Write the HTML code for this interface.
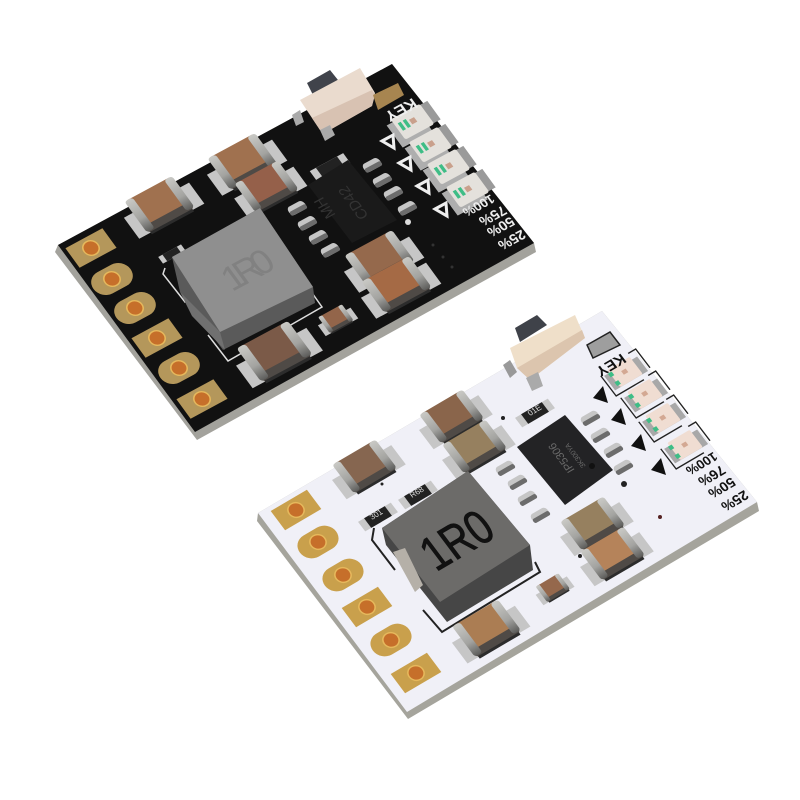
<!DOCTYPE html>
<html><head><meta charset="utf-8"><style>
html,body{margin:0;padding:0;background:#fff}svg{display:block}
text{font-family:"Liberation Sans",sans-serif}
</style></head><body>
<svg xmlns="http://www.w3.org/2000/svg" width="800" height="800" viewBox="0 0 800 800">
<defs>
<linearGradient id="metal" x1="0" y1="0" x2="0" y2="1"><stop offset="0" stop-color="#c9c9c5"/><stop offset=".6" stop-color="#a3a3a0"/><stop offset="1" stop-color="#5d5d5b"/></linearGradient>
<g id="cap">
<rect x="-37" y="-6" width="74" height="26" fill="#c6c6c6"/>
<rect x="-24" y="-10" width="48" height="32" fill="#2c2c2c"/>
<rect x="-26" y="-12" width="52" height="31" rx="3" fill="#4f4a46"/>
<rect x="-26" y="-20" width="52" height="31" rx="3" fill="currentColor"/>
<rect x="-27" y="-20" width="9" height="38" rx="3" fill="url(#metal)"/>
<rect x="18" y="-20" width="9" height="38" rx="3" fill="url(#metal)"/>
</g>
<g id="psq"><rect x="-21" y="-12" width="42" height="24" fill="currentColor"/><circle r="8.5" fill="#e6b85c"/><circle r="7" fill="#c66f2a"/></g>
<g id="pov"><rect x="-21" y="-13" width="42" height="26" rx="13" fill="currentColor"/><circle r="8.5" fill="#e6b85c"/><circle r="7" fill="#c66f2a"/></g>
<g id="ledb">
<rect x="-20" y="-8" width="10" height="24" fill="#aeaeae"/><rect x="-20" y="6" width="30" height="10" fill="#aeaeae"/>
<rect x="12" y="-10" width="10" height="20" fill="#9a9a9a"/>
<rect x="-14" y="-11" width="29" height="22" rx="2" fill="#e4e1dc"/>
<rect x="-11" y="-5" width="3" height="8" fill="#3ebd86"/><rect x="-6" y="-5" width="3" height="8" fill="#3ebd86"/>
<rect x="-1" y="-3" width="5" height="5" fill="#c9a08c"/>
</g>
<g id="ledw">
<polyline points="-25,-10 -25,18 12,18" fill="none" stroke="#222" stroke-width="1.5"/>
<polyline points="16,-16 26,-16 26,10" fill="none" stroke="#222" stroke-width="1.5"/>
<rect x="-22" y="-8" width="44" height="20" fill="#a8a8a8"/>
<rect x="-15" y="-12" width="30" height="24" rx="2" fill="#f0ddd2"/>
<rect x="-3" y="-3" width="6" height="5" fill="#d3a893"/>
<rect x="-17" y="-8" width="5" height="5" fill="#3ebd86"/><rect x="-17" y="4" width="5" height="5" fill="#3ebd86"/>
</g>
<g id="legb"><rect x="-13" y="-5" width="26" height="10" rx="5" fill="#c6c6c6"/><rect x="-13" y="0" width="26" height="5" rx="2.5" fill="#6c6c6c"/></g>
<g id="res"><rect x="-19" y="-6" width="38" height="12" fill="#c8c8c8"/><rect x="-12" y="-6" width="24" height="12" fill="#222"/></g>
</defs>
<rect width="800" height="800" fill="#fff"/>

<!-- BLACK BOARD -->
<polygon points="58,245 392,64 534,243 536,252 197,440 55,252" fill="#a3a29c"/>
<polygon points="58,245 392,64 534,243 195,432" fill="#111"/>
<!-- silkscreen -->
<polyline points="165,268 163,274 185,302 192,298" fill="none" stroke="#ddd" stroke-width="1.5"/>
<polyline points="208,335 228,361 322,307 310,290" fill="none" stroke="#ddd" stroke-width="1.5"/>
<!-- pads -->
<g color="#b4975b">
<use href="#psq" transform="matrix(.88 -.475 .59 .81 91 248)"/>
<use href="#pov" transform="matrix(.88 -.475 .59 .81 112 279)"/>
<use href="#pov" transform="matrix(.88 -.475 .59 .81 135 308)"/>
<use href="#psq" transform="matrix(.88 -.475 .59 .81 157 338)"/>
<use href="#pov" transform="matrix(.88 -.475 .59 .81 179 368)"/>
<use href="#psq" transform="matrix(.88 -.475 .59 .81 202 399)"/>
</g>
<!-- caps -->
<use href="#cap" color="#a0714f" transform="matrix(.88 -.475 .59 .81 160 205)"/>
<use href="#cap" color="#a0714f" transform="matrix(.88 -.475 .59 .81 243 162)"/>
<use href="#cap" color="#95604a" transform="matrix(.8 -.43 .54 .74 267 187)"/>
<use href="#cap" color="#95694c" transform="matrix(.88 -.475 .59 .81 380 259)"/>
<use href="#cap" color="#a56a45" transform="matrix(.88 -.475 .59 .81 397 285)"/>
<use href="#cap" color="#7b5a48" transform="matrix(.95 -.51 .64 .87 275 352)"/>
<use href="#cap" color="#93654a" transform="matrix(.44 -.24 .3 .41 336 319)"/>
<!-- resistor -->
<use href="#res" transform="matrix(.88 -.475 .59 .81 330 167)"/>
<use href="#res" transform="matrix(.6 -.33 .4 .55 172 254)"/>
<!-- IC -->
<g>
<use href="#legb" transform="matrix(.62 -.33 .59 .81 372 165)"/>
<use href="#legb" transform="matrix(.62 -.33 .59 .81 382 180)"/>
<use href="#legb" transform="matrix(.62 -.33 .59 .81 393 193)"/>
<use href="#legb" transform="matrix(.62 -.33 .59 .81 407 208)"/>
<use href="#legb" transform="matrix(.62 -.33 .59 .81 297 208)"/>
<use href="#legb" transform="matrix(.62 -.33 .59 .81 307 223)"/>
<use href="#legb" transform="matrix(.62 -.33 .59 .81 318 237)"/>
<use href="#legb" transform="matrix(.62 -.33 .59 .81 330 250)"/>
</g>
<polygon points="348,160 397,220 352,243 308,185" fill="#1a1a1a"/>
<text transform="matrix(-.59 -.81 .88 -.475 336 215)" font-size="15" fill="#333">MH</text>
<text transform="matrix(-.59 -.81 .88 -.475 369 216)" font-size="15" fill="#333">CD42</text>
<circle cx="408" cy="222" r="3" fill="#ddd"/>
<circle cx="433" cy="245" r="1.5" fill="#333"/><circle cx="443" cy="257" r="1.5" fill="#333"/><circle cx="452" cy="267" r="1.5" fill="#333"/>
<!-- inductor -->
<polygon points="172,257 260,208 313,287 315,303 223,350 180,292" fill="#5a5a5a"/>
<polygon points="172,257 260,208 313,287 220,332" fill="#8f8f8f"/>
<polygon points="180,292 220,332 225,350 192,316" fill="#707070"/>
<text transform="matrix(.88 -.475 .59 .81 232 292)" font-size="36" fill="#818181" textLength="52">1R0</text>
<!-- switch -->
<polygon points="307,83 330,70 338,80 313,95" fill="#40434b"/>
<polygon points="300,100 360,68 375,93 372,106 328,131 320,130 312,118" fill="#eadbce"/>
<polygon points="312,118 372,90 375,95 372,106 328,131 320,130" fill="#d8c2b2"/>
<polygon points="292,115 300,110 304,122 296,126" fill="#aaa"/>
<polygon points="320,130 330,125 335,135 325,141" fill="#aaa"/>
<polygon points="373,95 398,83 404,95 378,110" fill="#a78550"/>
<!-- LEDs + triangles -->
<use href="#ledb" transform="matrix(1 -.54 .67 .92 412 122)"/>
<use href="#ledb" transform="matrix(1 -.54 .67 .92 430 145)"/>
<use href="#ledb" transform="matrix(1 -.54 .67 .92 448 167)"/>
<use href="#ledb" transform="matrix(1 -.54 .67 .92 467 190)"/>
<g fill="none" stroke="#eee" stroke-width="3">
<polygon points="382,141 393,135 394,148"/>
<polygon points="399,163 410,157 411,170"/>
<polygon points="417,186 428,180 429,193"/>
<polygon points="435,209 446,203 447,216"/>
</g>
<g fill="#eee" font-size="13" font-weight="bold" text-anchor="middle">
<text transform="matrix(-.88 .475 -.59 -.81 398 105.500)" font-size="16">KEY</text>
<text transform="matrix(-.88 .475 -.59 -.81 476 202)">100%</text>
<text transform="matrix(-.88 .475 -.59 -.81 490 212)" font-size="14">75%</text>
<text transform="matrix(-.88 .475 -.59 -.81 498 223)" font-size="14">50%</text>
<text transform="matrix(-.88 .475 -.59 -.81 509 236)" font-size="14">25%</text>
</g>

<!-- WHITE BOARD -->
<polygon points="258,513 602,311 757,502 759,511 408,719 257,521" fill="#a5a49c"/>
<polygon points="258,513 602,311 757,502 407,712" fill="#f0f0f7"/>
<!-- silkscreen -->
<polyline points="374,528 372,540 395,570" fill="none" stroke="#222" stroke-width="2"/>
<polyline points="423,610 442,632 540,572 535,562" fill="none" stroke="#222" stroke-width="2"/>
<!-- pads -->
<g color="#c9a04c">
<use href="#psq" transform="matrix(.862 -.506 .6 .8 296 510)"/>
<use href="#pov" transform="matrix(.862 -.506 .6 .8 318 542)"/>
<use href="#pov" transform="matrix(.862 -.506 .6 .8 343 575)"/>
<use href="#psq" transform="matrix(.862 -.506 .6 .8 367 607)"/>
<use href="#pov" transform="matrix(.862 -.506 .6 .8 391 640)"/>
<use href="#psq" transform="matrix(.862 -.506 .6 .8 416 673)"/>
</g>
<!-- caps -->
<use href="#cap" color="#866650" transform="matrix(.8 -.47 .56 .74 365 467)"/>
<use href="#cap" color="#8a654b" transform="matrix(.8 -.47 .56 .74 452 417)"/>
<use href="#cap" color="#96805f" transform="matrix(.8 -.47 .56 .74 475 447)"/>
<use href="#cap" color="#96805f" transform="matrix(.8 -.47 .56 .74 593 524)"/>
<use href="#cap" color="#b5835a" transform="matrix(.8 -.47 .56 .74 613 554)"/>
<use href="#cap" color="#ab7d53" transform="matrix(.85 -.5 .6 .8 487 629)"/>
<use href="#cap" color="#95684c" transform="matrix(.42 -.25 .3 .4 553 588)"/>
<!-- resistors -->
<use href="#res" transform="matrix(.862 -.506 .6 .8 535 413)"/>
<use href="#res" transform="matrix(.862 -.506 .6 .8 378 517)"/>
<use href="#res" transform="matrix(.862 -.506 .6 .8 418 495)"/>
<text transform="matrix(.862 -.506 .6 .8 530 416)" font-size="8" fill="#ddd">01E</text>
<text transform="matrix(.862 -.506 .6 .8 372 520)" font-size="8" fill="#ddd">301</text>
<text transform="matrix(.862 -.506 .6 .8 412 498)" font-size="8" fill="#ddd">R68</text>
<!-- IC -->
<g>
<use href="#legb" transform="matrix(.62 -.36 .6 .8 590 418)"/>
<use href="#legb" transform="matrix(.62 -.36 .6 .8 600 435)"/>
<use href="#legb" transform="matrix(.62 -.36 .6 .8 613 450)"/>
<use href="#legb" transform="matrix(.62 -.36 .6 .8 623 467)"/>
<use href="#legb" transform="matrix(.62 -.36 .6 .8 505 468)"/>
<use href="#legb" transform="matrix(.62 -.36 .6 .8 517 482)"/>
<use href="#legb" transform="matrix(.62 -.36 .6 .8 527 498)"/>
<use href="#legb" transform="matrix(.62 -.36 .6 .8 540 515)"/>
</g>
<polygon points="565,415 613,470 565,505 517,447" fill="#232325"/>
<text transform="matrix(-.6 -.8 .862 -.506 575 470)" font-size="11" fill="#6a6a6a">IP5306</text>
<text transform="matrix(-.6 -.8 .862 -.506 586 466)" font-size="7" fill="#6a6a6a">3K300YA</text>
<circle cx="592" cy="466" r="3" fill="#111"/>
<circle cx="624" cy="484" r="3" fill="#222"/><circle cx="382" cy="484" r="1.5" fill="#222"/><circle cx="503" cy="418" r="2" fill="#222"/><circle cx="660" cy="517" r="2" fill="#522"/><circle cx="580" cy="556" r="2" fill="#222"/>
<!-- inductor -->
<polygon points="382,528 468,471 530,545 533,570 447,622 386,545" fill="#464646"/>
<polygon points="382,528 468,471 530,545 440,602" fill="#6c6b69"/>
<polygon points="393,552 405,548 423,585 415,592" fill="#b5b0a8"/>
<text transform="matrix(.862 -.506 .6 .8 436 572)" font-size="50" font-family="Liberation Mono" fill="#111" stroke="#111" stroke-width=".8" textLength="72" lengthAdjust="spacingAndGlyphs">1R0</text>
<!-- switch -->
<polygon points="515,328 537,315 547,325 520,342" fill="#3f4249"/>
<polygon points="510,348 575,315 585,338 530,380 517,368" fill="#efdfc9"/>
<polygon points="517,368 582,330 585,338 530,380" fill="#dcc5ae"/>
<polygon points="503,365 510,360 517,372 510,378" fill="#999"/>
<polygon points="526,378 538,372 543,386 532,391" fill="#aaa"/>
<polygon points="587,345 610,332 620,345 593,358" fill="#9e9e9e" stroke="#222" stroke-width="1.5"/>
<!-- LEDs + triangles -->
<use href="#ledw" transform="matrix(.75 -.44 .55 .72 625 372)"/>
<use href="#ledw" transform="matrix(.75 -.44 .55 .72 645 394)"/>
<use href="#ledw" transform="matrix(.75 -.44 .55 .72 663 418)"/>
<use href="#ledw" transform="matrix(.75 -.44 .55 .72 685 445)"/>
<g fill="#111">
<polygon points="593,398 603,386 608,403"/>
<polygon points="611,420 621,408 626,425"/>
<polygon points="631,446 641,434 646,451"/>
<polygon points="651,470 661,458 666,475"/>
</g>
<g fill="#111" font-size="13" font-weight="bold" text-anchor="middle">
<text transform="matrix(-.862 .506 -.6 -.8 608 361)" font-size="15">KEY</text>
<text transform="matrix(-.862 .506 -.6 -.8 699 460)">100%</text>
<text transform="matrix(-.862 .506 -.6 -.8 709 472)" font-size="14">76%</text>
<text transform="matrix(-.862 .506 -.6 -.8 719 484)" font-size="14">50%</text>
<text transform="matrix(-.862 .506 -.6 -.8 732 497)" font-size="14">25%</text>
</g>
</svg>
</body></html>
